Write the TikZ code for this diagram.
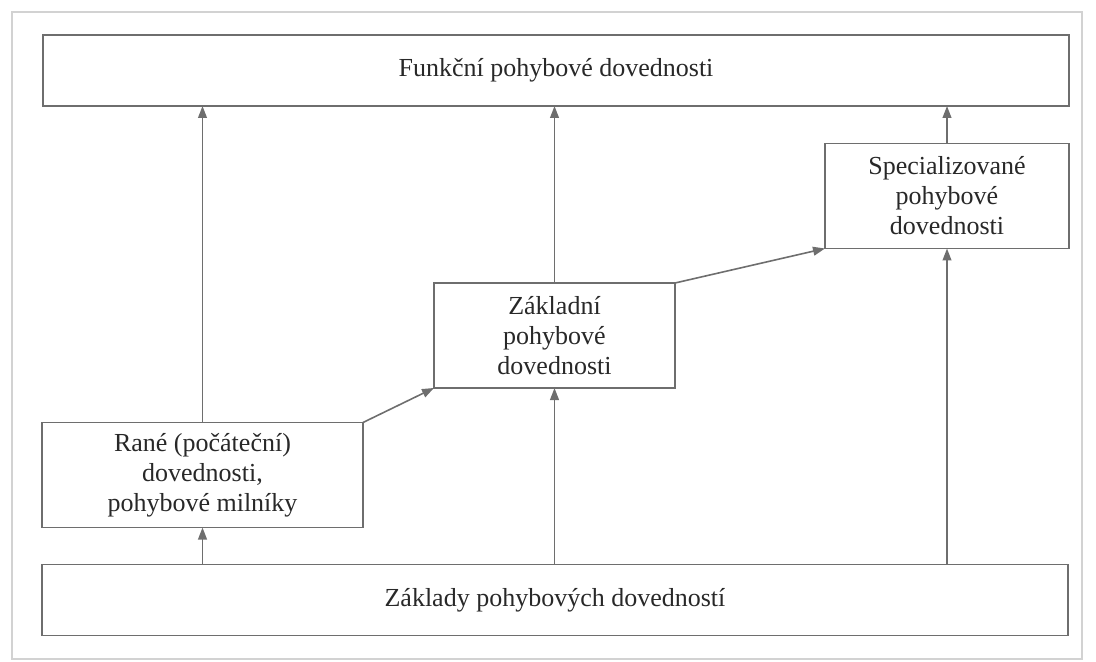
\documentclass[tikz,border=0pt]{standalone}
\usepackage{fontspec}
\setmainfont{Liberation Serif}
\usepackage{xcolor}
\usepackage{tikz}
\usetikzlibrary{positioning,arrows.meta}
\definecolor{lineg}{RGB}{110,110,110}
\definecolor{textg}{RGB}{40,40,40}
\tikzset{
  box/.style={draw=lineg, line width=0.8pt, align=center, inner sep=0pt, outer sep=0pt,
              text=textg, font=\fontsize{13}{15}\selectfont},
  widebox/.style={box, minimum width=513pt, minimum height=35.5pt},
  skillbox/.style={box, minimum height=52.5pt},
  arrow/.style={-{Triangle[length=6pt,width=4.4pt]}, draw=lineg, line width=0.8pt},
}
\begin{document}
\begin{tikzpicture}[x=0.5pt,y=-0.5pt]
  \useasboundingbox (0,0) rectangle (1096,662);
  \draw[gray!35, line width=0.8pt] (12,12) rectangle (1082,659);
  \node[widebox]                      (func) at (556,70.5)  {Funkční pohybové dovednosti};
  \node[skillbox, minimum width=160.5pt] (rane) at (202.5,475) {Rané (počáteční)\\dovednosti,\\pohybové milníky};
  \node[skillbox, minimum width=120.5pt] (zakl) at (554.5,335.5) {Základní\\pohybové\\dovednosti};
  \node[skillbox, minimum width=122pt]   (spec) at (947,196)  {Specializované\\pohybové\\dovednosti};
  \node[widebox]                      (base) at (555,600)   {Základy pohybových dovedností};
  % from the base upwards
  \draw[arrow] (base.north -| rane) -- (rane.south);
  \draw[arrow] (base.north -| zakl) -- (zakl.south);
  \draw[arrow] (base.north -| spec) -- (spec.south);
  % into the functional skills
  \draw[arrow] (rane.north) -- (func.south -| rane);
  \draw[arrow] (zakl.north) -- (func.south -| zakl);
  \draw[arrow] (spec.north) -- (func.south -| spec);
  % the steps between the stages
  \draw[arrow] (rane.north east) -- (zakl.south west);
  \draw[arrow] (zakl.north east) -- (spec.south west);
\end{tikzpicture}
\end{document}
